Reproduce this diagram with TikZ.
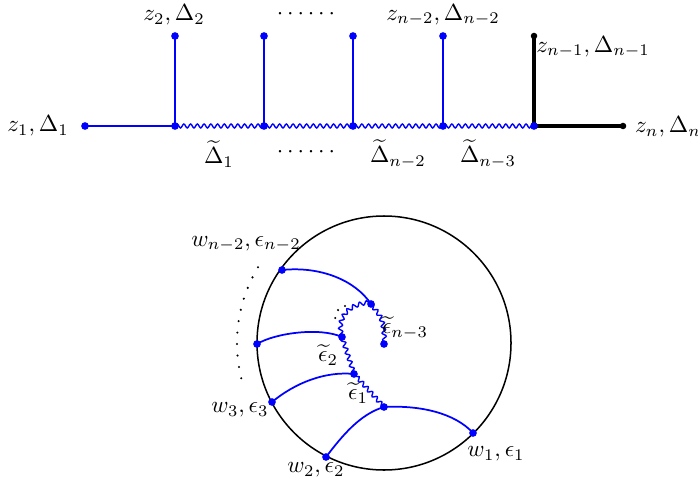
\documentclass[tikz,border=0pt]{standalone}
\usetikzlibrary{decorations.pathmorphing}
\tikzset{
  bline/.style={blue, line width=0.75pt},
  kline/.style={black, line width=1.4pt},
  wline/.style={blue, line width=0.6pt, decorate,
    decoration={snake, amplitude=0.85pt, segment length=2.9pt}},
  bdot/.style={circle, fill=blue, inner sep=0pt, minimum size=3.3pt},
  kdot/.style={circle, fill=black, inner sep=0pt, minimum size=2.8pt},
  dotarc/.style={line width=1pt, line cap=round, dash pattern=on 0pt off 4.95pt},
  lbl/.style={inner sep=0pt}
}
\begin{document}
\begin{tikzpicture}[x=0.43pt, y=-0.43pt]
\useasboundingbox (0,0) rectangle (698,488);
% upper graph
\coordinate (p1) at (85,126);
\coordinate (q2) at (175,126);
\coordinate (q3) at (264,126);
\coordinate (q4) at (353,126);
\coordinate (q5) at (443,126);
\coordinate (q6) at (534,126);
\coordinate (p7) at (623,126);
\coordinate (t2) at (175,36);
\coordinate (t3) at (264,36);
\coordinate (t4) at (353,36);
\coordinate (t5) at (443,36);
\coordinate (t6) at (534,36);
\draw[kline] (t6) -- (q6) -- (p7);
\draw[bline] (p1) -- (q2);
\draw[bline] (t2) -- (q2);
\draw[bline] (t3) -- (q3);
\draw[bline] (t4) -- (q4);
\draw[bline] (t5) -- (q5);
\draw[wline] (q2) -- (q3);
\draw[wline] (q3) -- (q4);
\draw[wline] (q4) -- (q5);
\draw[wline] (q5) -- (q6);
\node[bdot] at (p1) {};
\node[bdot] at (q2) {};
\node[bdot] at (q3) {};
\node[bdot] at (q4) {};
\node[bdot] at (q5) {};
\node[bdot] at (q6) {};
\node[bdot] at (t2) {};
\node[bdot] at (t3) {};
\node[bdot] at (t4) {};
\node[bdot] at (t5) {};
\node[kdot] at (t6) {};
\node[kdot] at (p7) {};
\node[lbl] (l1) at (38,126) {$z_1,\Delta_1$};
\node[lbl] (l2) at (174,15) {$z_2,\Delta_2$};
\node[lbl] (ltop) at (306,14) {$\cdots\cdots$};
\node[lbl] (lm2) at (443,15) {$z_{n-2},\Delta_{n-2}$};
\node[lbl] (lm1) at (593,47) {$z_{n-1},\Delta_{n-1}$};
\node[lbl] (ln) at (668,127) {$z_n,\Delta_n$};
\node[lbl] (d1) at (219,154) {$\widetilde{\Delta}_1$};
\node[lbl] (lbot) at (306,152) {$\cdots\cdots$};
\node[lbl] (dm2) at (398,154) {$\widetilde{\Delta}_{n-2}$};
\node[lbl] (dm3) at (488,154) {$\widetilde{\Delta}_{n-3}$};
% lower graph
\draw[line width=0.65pt] (384,343) circle[radius=127];
\draw[dotarc] (384,343) ++(211:147) arc[start angle=211, end angle=166, radius=147];
\draw[dotarc, dash pattern=on 0pt off 3.6pt] (345,306) .. controls (338,308) .. (335,319);
\coordinate (wa) at (282,270);
\coordinate (wb) at (257,344);
\coordinate (wc) at (272,402);
\coordinate (wd) at (326,457);
\coordinate (we) at (473,433);
\coordinate (ua) at (371,304);
\coordinate (ub) at (342,337);
\coordinate (uc) at (354,374);
\coordinate (ud) at (384,407);
\coordinate (ue) at (384,344);
\draw[bline] (wa) .. controls (320,266) and (355,280) .. (ua);
\draw[bline] (wb) .. controls (275,333) and (320,327) .. (ub);
\draw[bline] (wc) .. controls (295,383) and (325,371) .. (uc);
\draw[bline] (wd) .. controls (342,436) and (360,414) .. (ud);
\draw[bline] (ud) .. controls (420,405) and (455,413) .. (we);
\draw[wline] (ud) -- (uc);
\draw[wline] (uc) -- (ub);
\draw[wline] (ub) .. controls (337,318) and (350,305) .. (ua);
\draw[wline] (ua) .. controls (382,318) .. (ue);
\node[bdot] at (wa) {};
\node[bdot] at (wb) {};
\node[bdot] at (wc) {};
\node[bdot] at (wd) {};
\node[bdot] at (we) {};
\node[bdot] at (ua) {};
\node[bdot] at (ub) {};
\node[bdot] at (uc) {};
\node[bdot] at (ud) {};
\node[bdot] at (ue) {};
\node[lbl] (ea) at (246,244) {$w_{n-2},\epsilon_{n-2}$};
\node[lbl] (ec) at (240,410) {$w_3,\epsilon_3$};
\node[lbl] (ed) at (316,470) {$w_2,\epsilon_2$};
\node[lbl] (ee) at (496,454) {$w_1,\epsilon_1$};
\node[lbl] (fa) at (405,328) {$\widetilde{\epsilon}_{n-3}$};
\node[lbl] (fb) at (328,355) {$\widetilde{\epsilon}_2$};
\node[lbl] (fc) at (358,393) {$\widetilde{\epsilon}_1$};
\end{tikzpicture}
\end{document}
